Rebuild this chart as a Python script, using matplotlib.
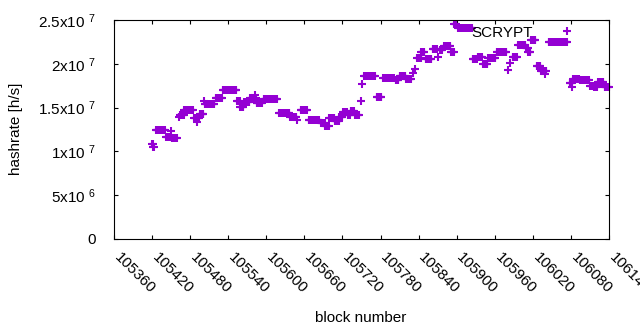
import numpy as np
import matplotlib
matplotlib.use("Agg")
import matplotlib.pyplot as plt
import matplotlib.transforms as mtransforms

plt.rcParams['font.family'] = ['Liberation Sans', 'DejaVu Sans']
plt.rcParams['mathtext.fontset'] = 'custom'
plt.rcParams['mathtext.rm'] = 'Liberation Sans'
plt.rcParams['mathtext.default'] = 'regular'

# Runs of consecutive blocks sharing one hashrate value (units of 1e7 h/s)
run_start = [105420, 105422, 105426, 105442, 105450, 105451, 105462, 105464, 105471, 105486,
             105491, 105492, 105495, 105502, 105503, 105520, 105531, 105554, 105559, 105565,
             105575, 105582, 105583, 105585, 105596, 105620, 105638, 105648, 105654, 105667,
             105686, 105693, 105699, 105708, 105715, 105721, 105728, 105733, 105740, 105749,
             105751, 105754, 105774, 105784, 105804, 105810, 105820, 105831, 105834, 105838,
             105844, 105851, 105862, 105871, 105874, 105880, 105891, 105896, 105902, 105925,
             105933, 105942, 105950, 105963, 105981, 105984, 105988, 105997, 106009, 106013,
             106017, 106026, 106033, 106039, 106040, 106045, 106078, 106081, 106082, 106084,
             106094, 106110, 106117, 106123, 106133]
run_end = [105421, 105423, 105440, 105449, 105450, 105459, 105462, 105470, 105484, 105490,
           105491, 105494, 105501, 105502, 105518, 105530, 105553, 105558, 105564, 105573,
           105581, 105582, 105583, 105593, 105617, 105636, 105647, 105648, 105664, 105683,
           105692, 105698, 105707, 105714, 105720, 105727, 105732, 105738, 105746, 105749,
           105751, 105771, 105781, 105801, 105808, 105819, 105828, 105831, 105834, 105843,
           105849, 105860, 105869, 105871, 105877, 105890, 105895, 105899, 105924, 105932,
           105940, 105948, 105961, 105978, 105981, 105984, 105995, 106008, 106012, 106016,
           106024, 106032, 106038, 106039, 106041, 106074, 106080, 106081, 106082, 106092,
           106108, 106116, 106121, 106131, 106140]
run_value = [1.08, 1.05, 1.24, 1.17, 1.23, 1.15, 1.39, 1.42, 1.47, 1.38,
             1.34, 1.38, 1.43, 1.57, 1.54, 1.61, 1.70, 1.57, 1.51, 1.56,
             1.61, 1.64, 1.61, 1.55, 1.60, 1.44, 1.39, 1.36, 1.47, 1.36,
             1.32, 1.29, 1.38, 1.35, 1.39, 1.45, 1.42, 1.46, 1.42, 1.58,
             1.77, 1.86, 1.62, 1.84, 1.81, 1.86, 1.83, 1.89, 1.94, 2.07,
             2.13, 2.06, 2.17, 2.08, 2.16, 2.20, 2.14, 2.45, 2.41, 2.05,
             2.08, 2.00, 2.07, 2.13, 1.93, 2.01, 2.08, 2.22, 2.18, 2.13,
             2.27, 1.98, 1.92, 1.88, 1.92, 2.25, 1.78, 1.74, 1.78, 1.83,
             1.82, 1.75, 1.74, 1.79, 1.74]

series_label = "SCRYPT"
x_ticks = list(range(105360, 106141, 60))
y_ticks = [0, 5e6, 1e7, 1.5e7, 2e7, 2.5e7]
y_tick_labels = ['0', '5x10 $^{6}$', '1x10 $^{7}$', '1.5x10 $^{7}$',
                 '2x10 $^{7}$', '2.5x10 $^{7}$']

blocks = np.concatenate([np.arange(s, e + 1) for s, e in zip(run_start, run_end)])
rates = np.concatenate([np.full(e - s + 1, v * 1e7) for s, e, v in zip(run_start, run_end, run_value)])

fig = plt.figure(figsize=(6.4, 3.3), dpi=100)
ax = fig.add_axes([114/640, 1 - 239/330, (609-114)/640, (239-20)/330])

ax.plot(blocks, rates, linestyle='none', marker='+', markersize=5.5,
        markeredgewidth=1.5, color='#9400d3', label=series_label, clip_on=False)

ax.set_xlim(105360, 106140)
ax.set_ylim(0, 2.5e7)
ax.set_xticks(x_ticks)
ax.set_xticklabels([str(t) for t in x_ticks], rotation=-45, rotation_mode='anchor',
                   ha='left', va='center')
ax.set_yticks(y_ticks)
ax.set_yticklabels(y_tick_labels)
ax.tick_params(axis='both', direction='in', length=3, width=0.8, labelsize=11,
               top=True, right=True, colors='black')
ax.tick_params(axis='y', pad=13)
ax.tick_params(axis='x', pad=12)
offset = mtransforms.ScaledTranslation(2.5/100, 0, fig.dpi_scale_trans)
for lab in ax.get_xticklabels():
    lab.set_transform(lab.get_transform() + offset)
for sp in ax.spines.values():
    sp.set_linewidth(0.8)
    sp.set_color('black')

fig.text(361/640, 1 - 318/330, 'block number', ha='center', va='center', fontsize=11)
fig.text(16/640, 1 - 129/330, 'hashrate [h/s]', ha='center', va='center',
         rotation=90, fontsize=11)

ax.legend(loc='upper right', bbox_to_anchor=(0.958, 1.002), borderaxespad=0,
          borderpad=0.4, markerfirst=False, frameon=False, handlelength=2,
          handletextpad=1.22, fontsize=11)

fig.savefig('out.png', dpi=100)
